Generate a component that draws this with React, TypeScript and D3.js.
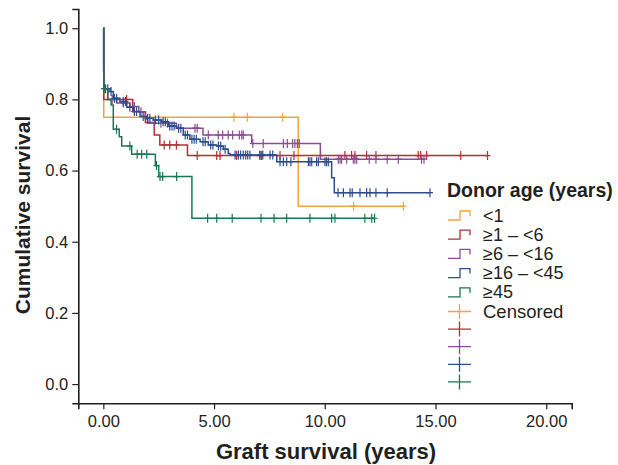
import * as d3 from "d3";
import { useEffect, useRef } from "react";

// donor age groups and colours
const groupLabels = ["<1", "≥1 – <6", "≥6 – <16", "≥16 – <45", "≥45"];
const groupColors = ["#f3a43a", "#b22f37", "#8c4c94", "#2d4d8d", "#1b7752"];

// step events (time in years, survival after the drop) and censor times, per group
const lt1Times = [0.02, 8.8];
const lt1Surv = [0.75, 0.5];
const lt1Censor = [5.9, 6.5, 8.1, 11.3, 13.55];

const a1to6Times = [0.02, 1.33, 1.9, 2.3, 2.55, 3.8];
const a1to6Surv = [0.8, 0.765, 0.735, 0.7, 0.672, 0.642];
const a1to6Censor = [1.05, 2.75, 3.0, 3.3, 4.24, 5.12, 5.27, 6.02, 7.07, 7.15, 7.98, 8.61, 9.81, 10.91, 11.21, 11.36, 11.89, 12.31, 14.22, 14.33, 14.6, 16.14, 17.35];

const a6to16Times = [0.02, 0.2, 0.6, 1.2, 1.6, 1.9, 2.0, 3.3, 4.5, 6.7, 9.8];
const a6to16Surv = [0.83, 0.8, 0.79, 0.78, 0.765, 0.745, 0.733, 0.719, 0.7, 0.676, 0.632];
const a6to16Censor = [0.4, 0.9, 1.4, 1.7, 2.3, 2.6, 2.9, 4.14, 4.24, 4.74, 5.19, 5.39, 5.64, 5.84, 6.14, 6.25, 6.32, 6.75, 7.22, 8.13, 8.31, 8.55, 8.65, 8.76, 8.85, 10.61, 10.69, 10.76, 10.99, 11.29, 11.36, 11.44, 12.01, 12.31, 12.82, 13.32, 14.37, 14.48];

const a16to45Times = [0.01, 0.02, 0.3, 0.45, 0.75, 1.06, 1.35, 1.66, 1.96, 2.26, 2.64, 2.93, 3.31, 3.61, 3.91, 4.37, 4.74, 5.12, 5.42, 5.64, 5.72, 7.83, 10.31, 10.43];
const a16to45Surv = [0.88, 0.83, 0.822, 0.803, 0.794, 0.778, 0.766, 0.752, 0.747, 0.742, 0.737, 0.725, 0.719, 0.7, 0.688, 0.681, 0.672, 0.669, 0.66, 0.648, 0.644, 0.625, 0.58, 0.538];
const a16to45Censor = [0.1, 0.2, 0.35, 0.5, 0.6, 0.9, 1.0, 1.2, 1.4, 1.5, 1.8, 2.0, 2.1, 2.35, 2.5, 2.7, 2.8, 3.0, 3.1, 3.2, 3.4, 3.5, 3.7, 3.8, 4.0, 4.1, 4.2, 4.5, 4.6, 4.85, 4.95, 5.2, 5.3, 5.5, 5.95, 6.1, 6.2, 6.32, 6.43, 6.52, 6.62, 7.07, 7.2, 7.53, 7.65, 7.98, 8.13, 8.28, 8.47, 9.26, 9.33, 9.41, 9.63, 9.71, 10.01, 10.08, 10.16, 10.6, 10.84, 11.14, 11.24, 11.59, 11.89, 12.04, 12.31, 12.82, 14.75];

const a45Times = [0.02, 0.2, 0.35, 0.45, 0.72, 0.83, 1.28, 2.35, 2.5, 4.0];
const a45Surv = [0.83, 0.8, 0.784, 0.716, 0.695, 0.669, 0.646, 0.614, 0.583, 0.466];
const a45Censor = [0.03, 0.6, 1.2, 1.53, 1.73, 1.96, 2.4, 2.56, 2.68, 3.31, 4.71, 5.12, 5.82, 7.12, 7.71, 8.28, 9.33, 10.31, 10.46, 11.81, 12.12, 12.25];

const groupTimes = [lt1Times, a1to6Times, a6to16Times, a16to45Times, a45Times];
const groupSurv = [lt1Surv, a1to6Surv, a6to16Surv, a16to45Surv, a45Surv];
const groupCensor = [lt1Censor, a1to6Censor, a6to16Censor, a16to45Censor, a45Censor];

const xTicks = [0, 5, 10, 15, 20];
const yTicks = [0, 0.2, 0.4, 0.6, 0.8, 1.0];

const W = 618;
const H = 465;
const font = "'Liberation Sans', Arial, sans-serif";
const ink = "#231f20";

const x = d3.scaleLinear().domain([-1.13, 21.15]).range([78.3, 571.7]);
const y = d3.scaleLinear().domain([-0.054, 1.054]).range([403.3, 9]);

const survAt = (times: number[], surv: number[], t: number) => {
  let s = 1;
  times.forEach((tt, i) => {
    if (tt <= t) s = surv[i];
  });
  return s;
};

const stepLine = d3
  .line<[number, number]>()
  .x((d) => x(d[0]))
  .y((d) => y(d[1]))
  .curve(d3.curveStepAfter);

const App = () => {
  const xRef = useRef<SVGGElement>(null);
  const yRef = useRef<SVGGElement>(null);

  useEffect(() => {
    const xAxis = d3.axisBottom(x).tickValues(xTicks).tickFormat(d3.format(".2f")).tickSizeOuter(0).tickSize(6).tickPadding(6);
    const yAxis = d3.axisLeft(y).tickValues(yTicks).tickFormat(d3.format(".1f")).tickSizeOuter(0).tickSize(6).tickPadding(4);
    const gx = d3.select(xRef.current!).call(xAxis as any);
    const gy = d3.select(yRef.current!).call(yAxis as any);
    [gx, gy].forEach((g) => {
      g.attr("font-size", 16.5).attr("font-family", font);
      g.selectAll("path").attr("stroke", ink).attr("stroke-width", 1.6);
      g.selectAll("line").attr("stroke", ink).attr("stroke-width", 1.2);
      g.selectAll("text").attr("fill", ink);
    });
  }, []);

  return (
    <svg width={W} height={H} style={{ position: "absolute", left: 0, top: 0 }}>
      <rect width={W} height={H} fill="#fff" />
      <g ref={xRef} transform={`translate(0,${y.range()[0]})`} />
      <g ref={yRef} transform={`translate(${x.range()[0]},0)`} />

      {groupLabels.map((g, gi) => {
        const times = groupTimes[gi];
        const surv = groupSurv[gi];
        const censor = groupCensor[gi];
        const end = d3.max(censor)!;
        const pts: [number, number][] = [[0, 1]];
        times.forEach((t, i) => pts.push([t, surv[i]]));
        pts.push([end, surv[surv.length - 1]]);
        return (
          <g key={g} stroke={groupColors[gi]} fill="none" strokeWidth={1.5}>
            <path d={stepLine(pts)!} />
            {censor.map((c, ci) => {
              const cx = x(c);
              const cy = y(survAt(times, surv, c));
              return (
                <path key={ci} d={`M${cx},${cy - 4.5}V${cy + 4.5}M${cx - 3},${cy}H${cx + 3}`} strokeWidth={1.2} />
              );
            })}
          </g>
        );
      })}

      {/* legend */}
      <text x={447} y={197} fontFamily={font} fontWeight="bold" fontSize={19.5} fill={ink}>
        Donor age (years)
      </text>
      {groupLabels.map((g, gi) => {
        const cy = 215 + gi * 19.2;
        return (
          <g key={g}>
            <path
              d={`M448,${cy + 5}H460V${cy - 4}H470V${cy + 1}`}
              stroke={groupColors[gi]}
              fill="none"
              strokeWidth={1.3}
            />
            <text x={483} y={cy + 6.5} fontFamily={font} fontSize={18} fill={ink}>
              {g}
            </text>
          </g>
        );
      })}
      {groupColors.map((c, gi) => {
        const cy = 311.5 + gi * 17.6;
        return (
          <path key={c} d={`M448,${cy}H471M459.5,${cy - 7.5}V${cy + 7.5}`} stroke={c} strokeWidth={1.3} fill="none" />
        );
      })}
      <text x={483} y={318} fontFamily={font} fontSize={18.5} fill={ink}>
        Censored
      </text>

      {/* axis titles */}
      <text x={326} y={459} textAnchor="middle" fontFamily={font} fontWeight="bold" fontSize={22} fill={ink}>
        Graft survival (years)
      </text>
      <text
        transform="translate(30,215) rotate(-90)"
        textAnchor="middle"
        fontFamily={font}
        fontWeight="bold"
        fontSize={21}
        fill={ink}
      >
        Cumulative survival
      </text>
    </svg>
  );
};

export default App;
